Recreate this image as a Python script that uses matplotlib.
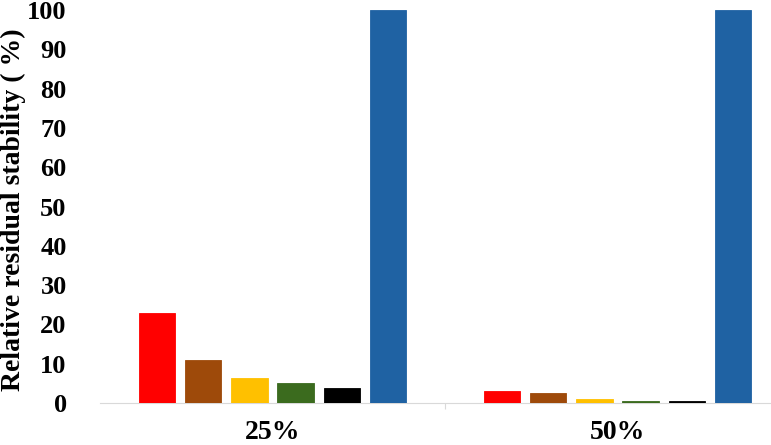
import matplotlib
matplotlib.use("Agg")
import matplotlib.pyplot as plt
import numpy as np

categories = ["25%", "50%"]
series_colors = ["#FF0000", "#9E4A0A", "#FFC000", "#3B6B1E", "#000000", "#1F62A3"]
values = [
    [23.0, 10.9, 6.4, 5.1, 3.8, 100.0],   # 25%
    [3.0, 2.5, 0.9, 0.4, 0.4, 100.0],     # 50%
]

plt.rcParams["font.family"] = ["Liberation Serif", "DejaVu Serif"]
plt.rcParams["font.weight"] = "bold"

fig = plt.figure(figsize=(7.71, 4.45), dpi=100)
ax = fig.add_axes([100 / 771, 42 / 445, 671 / 771, 393 / 445])

n = len(series_colors)
pitch = 0.134
width = 0.106
x = np.arange(len(categories))
for i, color in enumerate(series_colors):
    offs = (i - (n - 1) / 2) * pitch
    ax.bar(x + offs, [v[i] for v in values], width=width, color=color,
           edgecolor=color, linewidth=0.6, zorder=3)

ax.set_xlim(-0.5, 1.445)
ax.set_ylim(0, 100)
ax.set_yticks(np.arange(0, 101, 10))
ax.set_xticks(x)
ax.set_xticklabels(categories, fontsize=20, fontweight="bold")
ax.tick_params(axis="x", length=0, pad=12)
ax.tick_params(axis="y", length=0, labelsize=19, pad=24)
for lab in ax.get_yticklabels():
    lab.set_fontweight("bold")
ax.set_xticks([0.5], minor=True)
ax.tick_params(axis="x", which="minor", length=4, color="#D9D9D9", width=0.8)

for side in ["top", "right", "left"]:
    ax.spines[side].set_visible(False)
ax.spines["bottom"].set_color("#D9D9D9")
ax.spines["bottom"].set_linewidth(0.8)

# y label placed in figure pixels so it sits tight to the left edge
fig.text(13 / 771, 1 - 210 / 445, "Relative residual stability ( %)", rotation=90,
         ha="center", va="center", fontsize=20, fontweight="bold")

fig.savefig("out.png", dpi=100)
